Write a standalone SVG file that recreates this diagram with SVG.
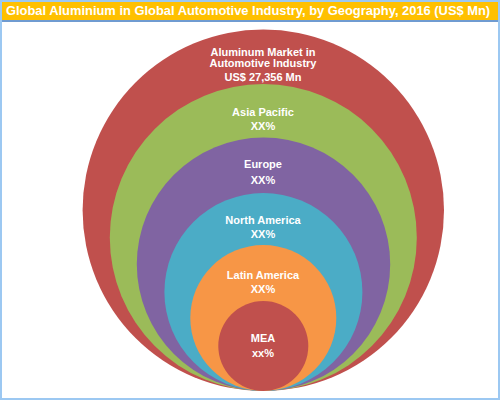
<svg xmlns="http://www.w3.org/2000/svg" width="500" height="400" viewBox="0 0 500 400">
<style>
.t{font-family:"Liberation Sans",Arial,sans-serif;font-weight:bold;fill:#fff;font-size:11px;text-anchor:middle}
.title{font-family:"Liberation Sans",Arial,sans-serif;font-weight:bold;fill:#fff;font-size:12.9px}
</style>
<rect x="0" y="0" width="500" height="400" fill="#fff"/>
<rect x="0" y="0" width="500" height="20" fill="#FFC000"/>
<line x1="0" y1="21" x2="500" y2="21" stroke="#6F9BD1" stroke-width="2"/>
<rect x="1" y="1" width="498" height="398" fill="none" stroke="#9CC8F2" stroke-width="2"/>
<text class="title" x="6" y="15">Global Aluminium in Global Automotive Industry, by Geography, 2016 (US$ Mn)</text>
<g id="node-total">
<circle cx="263.3" cy="210.3" r="180.7" fill="#C0504D"/>
<text class="t" x="263" y="56">Aluminum Market in</text>
<text class="t" x="263" y="67">Automotive Industry</text>
<text class="t" x="263" y="81">US$ 27,356 Mn</text>
</g>
<g id="node-apac">
<circle cx="263.3" cy="237.5" r="153.5" fill="#9BBB59"/>
<text class="t" x="263" y="116">Asia Pacific</text>
<text class="t" x="263" y="130">XX%</text>
</g>
<g id="node-europe">
<circle cx="263.5" cy="264.3" r="126.7" fill="#8064A2"/>
<text class="t" x="263" y="168">Europe</text>
<text class="t" x="263" y="184">XX%</text>
</g>
<g id="node-na">
<circle cx="263.4" cy="292" r="99" fill="#4BACC6"/>
<text class="t" x="263" y="224">North America</text>
<text class="t" x="263" y="238">XX%</text>
</g>
<g id="node-la">
<circle cx="263.3" cy="318" r="73" fill="#F79646"/>
<text class="t" x="263" y="279">Latin America</text>
<text class="t" x="263" y="293">XX%</text>
</g>
<g id="node-mea">
<circle cx="263.3" cy="346" r="45" fill="#C0504D"/>
<text class="t" x="263" y="342">MEA</text>
<text class="t" x="263" y="357">xx%</text>
</g>
<g id="connectors"/>
</svg>
